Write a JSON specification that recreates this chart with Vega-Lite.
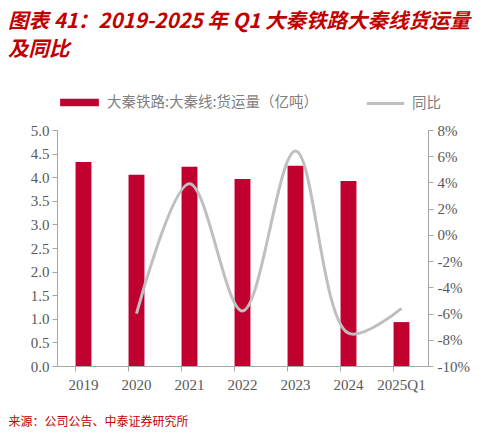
{
  "$schema": "https://vega.github.io/schema/vega-lite/v6.json",
  "width": 371,
  "height": 236,
  "autosize": {"type": "none"},
  "padding": {"left": 57, "top": 130, "right": 60, "bottom": 67},
  "background": "white",
  "title": {
    "text": ["图表 41：2019-2025 年 Q1 大秦铁路大秦线货运量", "及同比"],
    "anchor": "start",
    "frame": "group",
    "dx": -49,
    "offset": 23,
    "font": "Noto Sans CJK SC",
    "fontSize": 20.5,
    "fontStyle": "italic",
    "fontWeight": "bold",
    "color": "#C00000",
    "lineHeight": 28
  },
  "data": {
    "values": [
      {"period": "2019", "volume": 4.32, "yoy": null},
      {"period": "2020", "volume": 4.05, "yoy": -6.0},
      {"period": "2021", "volume": 4.22, "yoy": 3.9},
      {"period": "2022", "volume": 3.96, "yoy": -5.8},
      {"period": "2023", "volume": 4.24, "yoy": 6.4},
      {"period": "2024", "volume": 3.92, "yoy": -7.5},
      {"period": "2025Q1", "volume": 0.93, "yoy": -5.6}
    ]
  },
  "encoding": {
    "x": {
      "field": "period",
      "type": "ordinal",
      "sort": null,
      "scale": {"paddingInner": 0.7, "paddingOuter": 0.35},
      "axis": {
        "title": "来源：公司公告、中泰证券研究所",
        "titleX": -49,
        "titleY": 55,
        "titleAlign": "left",
        "titleBaseline": "middle",
        "titleAngle": 0,
        "titleFont": "Noto Sans CJK SC",
        "titleFontSize": 12,
        "titleFontWeight": "normal",
        "titleColor": "#C00000",
        "labelAngle": 0,
        "bandPosition": 0,
        "labelFont": "Liberation Serif",
        "labelFontSize": 15,
        "labelColor": "#595959",
        "labelPadding": 6,
        "domainColor": "#A6A6A6",
        "tickColor": "#A6A6A6",
        "tickSize": 5,
        "grid": false
      }
    }
  },
  "layer": [
    {
      "mark": {"type": "bar"},
      "encoding": {
        "y": {
          "field": "volume",
          "type": "quantitative",
          "scale": {"domain": [0, 5], "nice": false},
          "axis": {
            "title": null,
            "orient": "left",
            "values": [0, 0.5, 1, 1.5, 2, 2.5, 3, 3.5, 4, 4.5, 5],
            "format": ".1f",
            "labelFont": "Liberation Serif",
            "labelFontSize": 15,
            "labelColor": "#595959",
            "labelPadding": 3,
            "domainColor": "#A6A6A6",
            "tickColor": "#A6A6A6",
            "tickSize": 5,
            "grid": false
          }
        },
        "color": {
          "datum": "大秦铁路:大秦线:货运量（亿吨）",
          "scale": {"range": ["#C0002F"]},
          "legend": {
            "title": null,
            "orient": "none",
            "legendX": 3,
            "legendY": -47,
            "symbolType": "M-1,-0.2H1V0.2H-1Z",
            "symbolSize": 1500,
            "symbolStrokeWidth": 0,
            "labelFont": "Noto Sans CJK SC",
            "labelFontSize": 14.5,
            "labelColor": "#7F7F7F",
            "labelOffset": 8,
            "labelLimit": 400
          }
        }
      }
    },
    {
      "mark": {"type": "line", "interpolate": "catmull-rom", "strokeWidth": 3},
      "transform": [{"filter": "datum.yoy != null"}],
      "encoding": {
        "y": {
          "field": "yoy",
          "type": "quantitative",
          "scale": {"domain": [-10, 8], "nice": false, "zero": false},
          "axis": {
            "title": null,
            "orient": "right",
            "values": [-10, -8, -6, -4, -2, 0, 2, 4, 6, 8],
            "labelExpr": "datum.value + '%'",
            "labelFont": "Liberation Serif",
            "labelFontSize": 15,
            "labelColor": "#595959",
            "labelPadding": 4,
            "domainColor": "#A6A6A6",
            "tickColor": "#A6A6A6",
            "tickSize": 5,
            "grid": false
          }
        },
        "stroke": {
          "datum": "同比",
          "scale": {"range": ["#BFBFBF"]},
          "legend": {
            "title": null,
            "orient": "none",
            "legendX": 308,
            "legendY": -47,
            "symbolType": "stroke",
            "symbolSize": 1400,
            "symbolStrokeWidth": 3,
            "labelFont": "Noto Sans CJK SC",
            "labelFontSize": 14.5,
            "labelColor": "#7F7F7F",
            "labelOffset": 6
          }
        }
      }
    }
  ],
  "resolve": {"scale": {"y": "independent"}},
  "config": {
    "view": {"stroke": null}
  }
}
